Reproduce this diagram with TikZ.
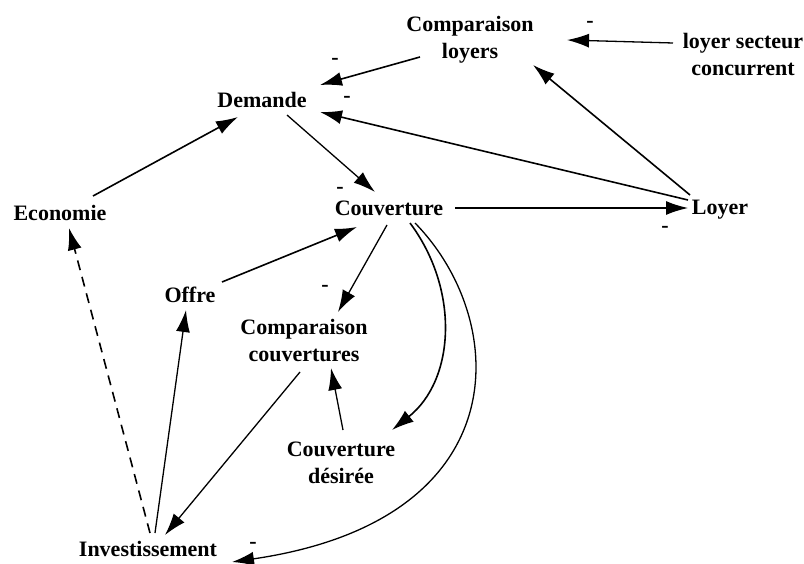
\documentclass[tikz,border=0pt]{standalone}
\usepackage{fontspec}
\setmainfont{Liberation Serif}
\usetikzlibrary{arrows.meta}
\begin{document}
\begin{tikzpicture}[x=1pt,y=-1pt,
  lbl/.style={font=\bfseries\fontsize{22}{27}\selectfont, align=center, inner sep=2pt},
  sgn/.style={font=\bfseries\fontsize{22}{27}\selectfont, inner sep=0pt},
  arr/.style={line width=1.6pt, -{Latex[length=22pt,width=14pt]}},
  thin arr/.style={line width=1.3pt, -{Latex[length=22pt,width=14pt]}},
  dash arr/.style={arr, dash pattern=on 10pt off 7pt}]
\useasboundingbox[fill=white] (0,0) rectangle (804,564);

% variables
\node[lbl] (cl)  at (470,40)  {Comparaison\\loyers};
\node[lbl] (ls)  at (743,55)  {loyer secteur\\concurrent};
\node[lbl] (dem) at (262,100) {Demande};
\node[lbl] (eco) at (60,213)  {Economie};
\node[lbl] (cov) at (389,208) {Couverture};
\node[lbl] (loy) at (720,210) {Loyer};
\node[lbl] (off) at (190,295) {Offre};
\node[lbl] (cc)  at (304,341) {Comparaison\\couvertures};
\node[lbl] (cd)  at (341,463) {Couverture\\désirée};
\node[lbl] (inv) at (148,549) {Investissement};

% influences
\draw[thin arr] ([shift={(-70,-12)}]ls.center) -- ([shift={(97,0)}]cl.center);
\draw[arr] ([shift={(-50,17)}]cl.center) -- ([shift={(58,-15)}]dem.center);
\draw[arr] ([shift={(-30,-15)}]loy.center) -- ([shift={(63,25)}]cl.center);
\draw[arr] ([shift={(-32,-10)}]loy.center) -- ([shift={(58,12)}]dem.center);
\draw[thin arr] ([shift={(25,15)}]dem.center) -- ([shift={(-14,-16)}]cov.center);
\draw[arr] ([shift={(33,-17)}]eco.center) -- ([shift={(-24,17)}]dem.center);
\draw[thin arr] ([shift={(66,0)}]cov.center) -- ([shift={(-32,-2)}]loy.center);
\draw[arr] ([shift={(32,-13)}]off.center) -- ([shift={(-32,19)}]cov.center);
\draw[thin arr] ([shift={(-2,17)}]cov.center) -- ([shift={(34,-29)}]cc.center);
\draw[arr] ([shift={(21,15)}]cov.center)
  .. controls ([shift={(71,82)}]cov.center) and ([shift={(66,172)}]cov.center)
  .. ([shift={(51,-33)}]cd.center);
\draw[thin arr] ([shift={(26,15)}]cov.center)
  .. controls ([shift={(121,112)}]cov.center) and ([shift={(131,312)}]cov.center)
  .. ([shift={(84,13)}]inv.center);
\draw[thin arr] ([shift={(-4,31)}]cc.center) -- ([shift={(17,-14)}]inv.center);
\draw[thin arr] ([shift={(2,-33)}]cd.center) -- ([shift={(27,27)}]cc.center);
\draw[thin arr] ([shift={(7,-16)}]inv.center) -- ([shift={(-4,15)}]off.center);
\draw[dash arr] ([shift={(2,-16)}]inv.center) -- ([shift={(9,15)}]eco.center);

% polarity signs
\node[sgn] (s1) at (590,24)  {-};
\node[sgn] (s2) at (335,61)  {-};
\node[sgn] (s3) at (347,99)  {-};
\node[sgn] (s4) at (340,190) {-};
\node[sgn] (s5) at (665,229) {-};
\node[sgn] (s6) at (325,288) {-};
\node[sgn] (s7) at (253,545) {-};
\end{tikzpicture}
\end{document}
